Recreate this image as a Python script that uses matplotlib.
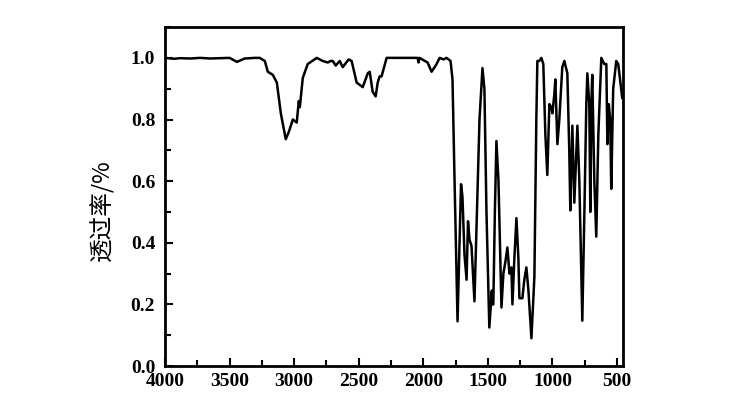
import matplotlib
matplotlib.use("Agg")
import matplotlib.pyplot as plt
from matplotlib.ticker import MultipleLocator

# wavenumber (cm-1) and transmittance
wavenumber = [4000, 3930, 3884, 3800, 3729, 3650, 3575, 3500, 3443, 3382, 3300,
              3266, 3227, 3204, 3165, 3134, 3103, 3065, 3041, 3010, 2980, 2964,
              2956, 2933, 2895, 2825, 2779, 2740, 2717, 2701, 2678, 2647, 2624,
              2578, 2555, 2516, 2469, 2430, 2415, 2392, 2369, 2353, 2338, 2323,
              2284, 2150, 2044, 2037, 2029, 1967, 1936, 1897, 1874, 1843, 1820,
              1789, 1774, 1758, 1735, 1720, 1708, 1697, 1681, 1665, 1654, 1642,
              1627, 1604, 1588, 1565, 1542, 1527, 1511, 1489, 1469, 1474, 1458,
              1446, 1434, 1418, 1395, 1380, 1364, 1349, 1333, 1318, 1310, 1295,
              1279, 1264, 1256, 1233, 1218, 1202, 1187, 1163, 1140, 1125, 1117,
              1102, 1086, 1071, 1055, 1040, 1024, 1009, 1001, 986, 978, 962, 947,
              924, 908, 885, 870, 862, 854, 846, 831, 815, 807, 792, 769, 753,
              738, 730, 715, 707, 699, 692, 676, 661, 645, 622, 599, 583, 575,
              564, 553, 545, 530, 506, 491, 468, 460]
transmittance = [1.0, 0.997, 0.999, 0.998, 1.0, 0.998, 0.999, 1.0, 0.987, 0.998, 1.0,
                 1.0, 0.99, 0.955, 0.945, 0.92, 0.82, 0.736, 0.76, 0.80, 0.79, 0.86,
                 0.84, 0.935, 0.98, 1.0, 0.99, 0.985, 0.99, 0.99, 0.975, 0.99, 0.97,
                 0.995, 0.99, 0.92, 0.905, 0.95, 0.955, 0.89, 0.875, 0.92, 0.94, 0.94,
                 1.0, 1.0, 1.0, 0.985, 1.0, 0.985, 0.955, 0.98, 1.0, 0.995, 1.0,
                 0.99, 0.93, 0.6, 0.145, 0.4, 0.59, 0.55, 0.36, 0.28, 0.47, 0.41,
                 0.39, 0.21, 0.45, 0.8, 0.967, 0.9, 0.5, 0.125, 0.245, 0.2, 0.2,
                 0.5, 0.73, 0.6, 0.19, 0.3, 0.34, 0.385, 0.30, 0.32, 0.2, 0.35,
                 0.48, 0.35, 0.22, 0.22, 0.28, 0.32, 0.25, 0.09, 0.29, 0.8, 0.99,
                 0.99, 1.0, 0.98, 0.75, 0.62, 0.85, 0.84, 0.82, 0.88, 0.93, 0.72, 0.8,
                 0.97, 0.99, 0.95, 0.7, 0.505, 0.65, 0.78, 0.53, 0.7, 0.78, 0.6,
                 0.147, 0.5, 0.85, 0.95, 0.85, 0.5, 0.85, 0.945, 0.6, 0.42, 0.75,
                 1.0, 0.98, 0.98, 0.72, 0.85, 0.8, 0.575, 0.9, 0.99, 0.98, 0.9, 0.87]

fig = plt.figure(figsize=(7.55, 4.04), dpi=100)
ax = fig.add_axes([0.2185, 0.094, 0.6065, 0.839])

ax.plot(wavenumber, transmittance, color="black", linewidth=1.8)

ax.set_xlim(4000, 455)
ax.set_ylim(0, 1.1)
ax.xaxis.set_major_locator(MultipleLocator(500))
ax.xaxis.set_minor_locator(MultipleLocator(250))
ax.yaxis.set_major_locator(MultipleLocator(0.2))
ax.yaxis.set_minor_locator(MultipleLocator(0.1))

for s in ax.spines.values():
    s.set_linewidth(2)

ax.tick_params(axis="both", which="both", direction="in", width=1.5)
ax.tick_params(axis="both", which="major", length=6)
ax.tick_params(axis="both", which="minor", length=4)
ax.tick_params(axis="y", which="major", pad=7)
ax.tick_params(axis="x", which="major", pad=5)

ax.set_yticklabels(["%.1f" % v for v in ax.get_yticks()])
for lab in ax.get_xticklabels() + ax.get_yticklabels():
    lab.set_fontfamily("Liberation Serif")
    lab.set_fontweight("bold")
    lab.set_fontsize(14)

ax.set_ylabel("透过率/%", family=["Noto Sans CJK SC", "DejaVu Sans"],
              fontsize=17)
ax.yaxis.set_label_coords(-0.11, 0.46)

fig.savefig("out.png", dpi=100)
